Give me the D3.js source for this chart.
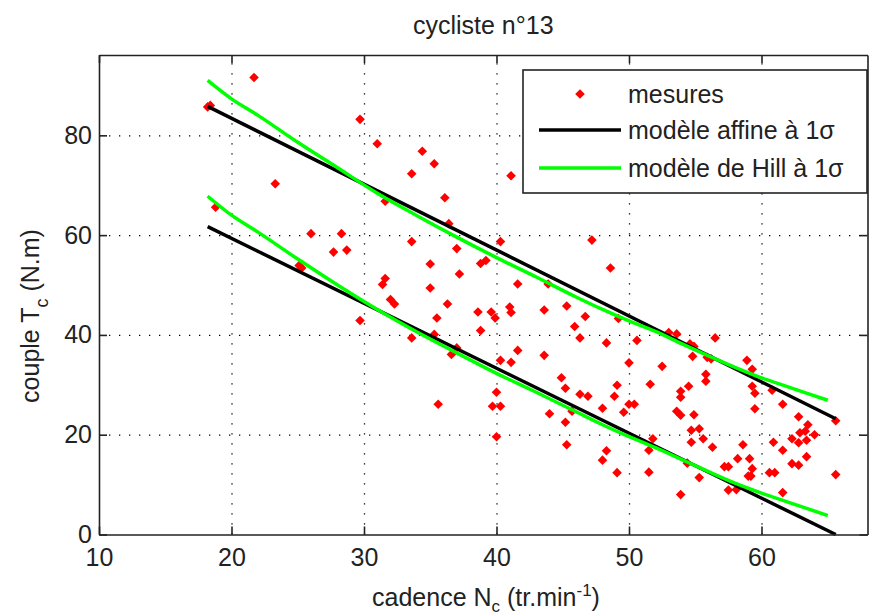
<!DOCTYPE html>
<html>
<head>
<meta charset="utf-8">
<script src="https://cdn.jsdelivr.net/npm/d3@7"></script>
<style>
  body { margin: 0; background: #fff; }
  text { font-family: "Liberation Sans", Arial, sans-serif; fill: #222; }
  .axis path, .axis line { stroke: #222; }
  .grid line { stroke: #000; stroke-width: 1.3; stroke-dasharray: 1.3,8.7; }
  .grid path { display: none; }
</style>
</head>
<body>
<div id="chart"></div>
<script>
// mesures : cadence N_c (tr/min), couple T_c (N.m)
var cadence = [21.7, 18.2, 18.4, 29.7, 31.0, 23.3, 18.8, 26.0, 28.3, 27.7, 28.7, 25.1, 25.3, 29.7,
  34.4, 35.3, 33.6, 41.1, 36.1, 31.6, 36.4, 33.6, 37.0, 40.3, 47.2, 38.8, 39.2, 35.0, 37.2, 48.6,
  31.6, 31.4, 35.0, 41.6, 43.9, 32.0, 32.3, 36.3, 45.3, 38.6, 39.6, 39.9, 41.0, 41.1, 43.6, 46.7,
  35.5, 45.9, 38.8, 46.3, 48.3, 33.6, 35.3, 37.0, 36.6, 41.6, 43.6, 40.3, 41.1, 44.9, 49.2, 35.6,
  40.0, 39.7, 40.3, 40.0, 45.2, 46.3, 46.9, 44.0, 45.2, 45.7, 48.0, 45.3, 48.3, 48.0, 49.1, 49.1,
  48.9, 49.6, 50.6, 50.0, 52.5, 53.0, 53.6, 54.6, 54.9, 54.8, 56.5, 55.9, 56.2, 58.9, 59.3, 55.8,
  55.8, 59.3, 59.5, 51.6, 54.5, 53.9, 53.9, 50.0, 50.4, 53.6, 53.9, 54.9, 59.5, 60.8, 61.6, 62.8,
  65.6, 63.5, 63.3, 62.9, 64.0, 62.3, 62.8, 63.4, 54.7, 55.3, 54.7, 55.6, 56.3, 51.8, 58.6, 60.9,
  61.6, 63.4, 62.3, 62.8, 58.2, 59.1, 59.3, 57.2, 57.5, 59.0, 59.2, 60.6, 61.0, 65.6, 55.3, 57.5,
  58.1, 61.6, 53.9, 51.5, 51.5, 54.4];
var couple = [91.6, 85.7, 86.0, 83.2, 78.3, 70.3, 65.6, 60.3, 60.3, 56.6, 57.0, 53.9, 53.4, 42.9,
  76.8, 74.3, 72.3, 71.9, 67.5, 66.8, 62.3, 58.7, 57.3, 58.7, 59.0, 54.3, 54.9, 54.2, 52.2, 53.4,
  51.3, 50.1, 49.4, 50.2, 50.2, 47.1, 46.2, 46.2, 45.8, 44.6, 44.6, 43.4, 45.6, 44.5, 45.0, 43.7,
  43.4, 41.7, 40.9, 39.4, 38.4, 39.4, 40.1, 37.4, 36.1, 36.9, 35.9, 34.9, 34.5, 31.4, 43.3, 26.1,
  28.5, 25.7, 25.7, 19.6, 29.3, 28.1, 27.7, 24.2, 22.5, 24.7, 25.3, 18.0, 16.8, 14.9, 12.4, 29.9,
  27.7, 24.5, 38.9, 34.4, 33.7, 40.5, 40.2, 38.2, 37.7, 35.7, 39.4, 35.5, 35.2, 34.9, 33.1, 32.1,
  30.7, 29.7, 28.3, 30.1, 29.7, 28.7, 27.5, 26.1, 26.1, 24.7, 23.9, 24.0, 25.2, 28.9, 26.1, 23.6,
  22.8, 22.0, 20.7, 20.4, 20.0, 19.2, 18.4, 18.9, 20.9, 21.2, 18.5, 19.2, 17.5, 19.2, 18.0, 18.5,
  16.9, 15.6, 14.2, 13.9, 15.2, 15.2, 13.2, 13.6, 13.6, 11.7, 11.7, 12.4, 12.4, 12.0, 11.4, 8.9,
  9.0, 8.4, 8.0, 12.5, 16.9, 14.3];

// modèle affine à 1 sigma (bornes haute et basse)
var affineN = [18.2, 65.6];
var affineHaut = [85.8, 23.2];
var affineBas = [61.7, 0.0];

// modèle de Hill à 1 sigma
var hillN = [18.2, 20, 22, 25, 28, 31, 34, 37, 40, 43, 46, 48, 50, 52, 54, 56, 58, 60, 62, 65];
var hillHaut = [91.0, 87.3, 84.0, 78.6, 73.5, 68.4, 63.9, 59.6, 55.5, 51.6, 47.6, 45.1, 42.8, 40.7,
  38.2, 35.8, 33.5, 31.4, 29.6, 26.9];
var hillBas = [67.8, 64.0, 60.6, 55.2, 50.0, 45.1, 40.6, 36.4, 32.3, 28.5, 24.6, 22.0, 19.6, 17.4,
  15.0, 12.6, 10.3, 8.3, 6.5, 3.8];

var xTicks = [10, 20, 30, 40, 50, 60];
var yTicks = [0, 20, 40, 60, 80];
var legendLabels = ["mesures", "modèle affine à 1σ", "modèle de Hill à 1σ"];

var w = 870;
var h = 616;
var pLeft = 99, pRight = 867.5, pTop = 55, pBottom = 534.5;

var svg = d3.select("#chart")
  .append("svg")
  .attr("width", w)
  .attr("height", h);

var xScale = d3.scaleLinear().domain([10, 68]).range([pLeft, pRight]);
var yScale = d3.scaleLinear().domain([0, 96.1]).range([pBottom, pTop]);

// grille pointillée
svg.append("g")
  .attr("class", "grid")
  .attr("transform", "translate(0," + pBottom + ")")
  .call(d3.axisBottom(xScale).tickValues(xTicks.slice(1)).tickSize(-(pBottom - pTop)).tickFormat(""));

svg.append("g")
  .attr("class", "grid")
  .attr("transform", "translate(" + pLeft + ",0)")
  .call(d3.axisLeft(yScale).tickValues(yTicks.slice(1)).tickSize(-(pRight - pLeft)).tickFormat(""));

// mesures
var pts = d3.range(cadence.length).map(function(i) { return [cadence[i], couple[i]]; });
var diamond = d3.symbol().type(d3.symbolSquare).size(46);

svg.append("g")
  .selectAll("path")
  .data(pts)
  .enter()
  .append("path")
  .attr("d", diamond)
  .attr("fill", "#ff0000")
  .attr("transform", function(d) {
    return "translate(" + xScale(d[0]) + "," + yScale(d[1]) + ") rotate(45)";
  });

// droites du modèle affine
var line = d3.line()
  .x(function(d) { return xScale(d[0]); })
  .y(function(d) { return yScale(d[1]); });

[affineHaut, affineBas].forEach(function(ys) {
  svg.append("path")
    .datum(affineN.map(function(n, i) { return [n, ys[i]]; }))
    .attr("fill", "none")
    .attr("stroke", "#000")
    .attr("stroke-width", 3.5)
    .attr("d", line);
});

// courbes du modèle de Hill
var curve = d3.line()
  .x(function(d) { return xScale(d[0]); })
  .y(function(d) { return yScale(d[1]); })
  .curve(d3.curveMonotoneX);

[hillHaut, hillBas].forEach(function(ys) {
  svg.append("path")
    .datum(hillN.map(function(n, i) { return [n, ys[i]]; }))
    .attr("fill", "none")
    .attr("stroke", "#00ff00")
    .attr("stroke-width", 3.5)
    .attr("d", curve);
});

// cadre et axes
var fontSize = 25;

var xAxis = svg.append("g")
  .attr("class", "axis")
  .attr("transform", "translate(0," + pBottom + ")")
  .call(d3.axisBottom(xScale).tickValues(xTicks).tickSizeInner(-8).tickSizeOuter(0).tickPadding(14));
xAxis.selectAll("text").attr("font-size", fontSize).attr("y", 14).attr("dy", "0.71em");

var yAxis = svg.append("g")
  .attr("class", "axis")
  .attr("transform", "translate(" + pLeft + ",0)")
  .call(d3.axisLeft(yScale).tickValues(yTicks).tickSizeInner(-8).tickSizeOuter(0).tickPadding(16));
yAxis.selectAll("text").attr("font-size", fontSize).attr("x", -7);

svg.append("g")
  .attr("class", "axis")
  .attr("transform", "translate(0," + pTop + ")")
  .call(d3.axisTop(xScale).tickValues(xTicks).tickSizeInner(-8).tickSizeOuter(0).tickFormat(""));

svg.append("g")
  .attr("class", "axis")
  .attr("transform", "translate(" + pRight + ",0)")
  .call(d3.axisRight(yScale).tickValues(yTicks).tickSizeInner(-8).tickSizeOuter(0).tickFormat(""));

svg.selectAll(".axis path").attr("stroke-width", 1.6);
svg.selectAll(".axis line").attr("stroke-width", 1.6);

// titre
svg.append("text")
  .attr("x", (pLeft + pRight) / 2)
  .attr("y", 34)
  .attr("text-anchor", "middle")
  .attr("font-size", fontSize)
  .text("cycliste n°13");

// titre de l'axe x
var xl = svg.append("text")
  .attr("x", 486)
  .attr("y", 606)
  .attr("text-anchor", "middle")
  .attr("font-size", fontSize);
xl.append("tspan").text("cadence N");
xl.append("tspan").attr("font-size", 17).attr("dy", 6).text("c");
xl.append("tspan").attr("dy", -6).text(" (tr.min");
xl.append("tspan").attr("font-size", 17).attr("dy", -10).text("-1");
xl.append("tspan").attr("dy", 10).text(")");

// titre de l'axe y
var yl = svg.append("text")
  .attr("transform", "translate(39,316) rotate(-90)")
  .attr("text-anchor", "middle")
  .attr("font-size", fontSize);
yl.append("tspan").text("couple T");
yl.append("tspan").attr("font-size", 18).attr("dy", 9).text("c");
yl.append("tspan").attr("dy", -9).text(" (N.m)");

// légende
var lg = svg.append("g");
lg.append("rect")
  .attr("x", 523).attr("y", 70)
  .attr("width", 344).attr("height", 123)
  .attr("fill", "#fff")
  .attr("stroke", "#222")
  .attr("stroke-width", 1.6);

var rowY = [94, 130, 168];
lg.append("path")
  .attr("d", diamond)
  .attr("fill", "#ff0000")
  .attr("transform", "translate(580," + rowY[0] + ") rotate(45)");
lg.append("line")
  .attr("x1", 539).attr("x2", 621)
  .attr("y1", rowY[1]).attr("y2", rowY[1])
  .attr("stroke", "#000").attr("stroke-width", 3.5);
lg.append("line")
  .attr("x1", 539).attr("x2", 621)
  .attr("y1", rowY[2]).attr("y2", rowY[2])
  .attr("stroke", "#00ff00").attr("stroke-width", 3.5);

lg.selectAll("text.leg")
  .data(legendLabels)
  .enter()
  .append("text")
  .attr("class", "leg")
  .attr("x", 628)
  .attr("y", function(d, i) { return rowY[i] + 9; })
  .attr("font-size", fontSize)
  .text(function(d) { return d; });
</script>
</body>
</html>
